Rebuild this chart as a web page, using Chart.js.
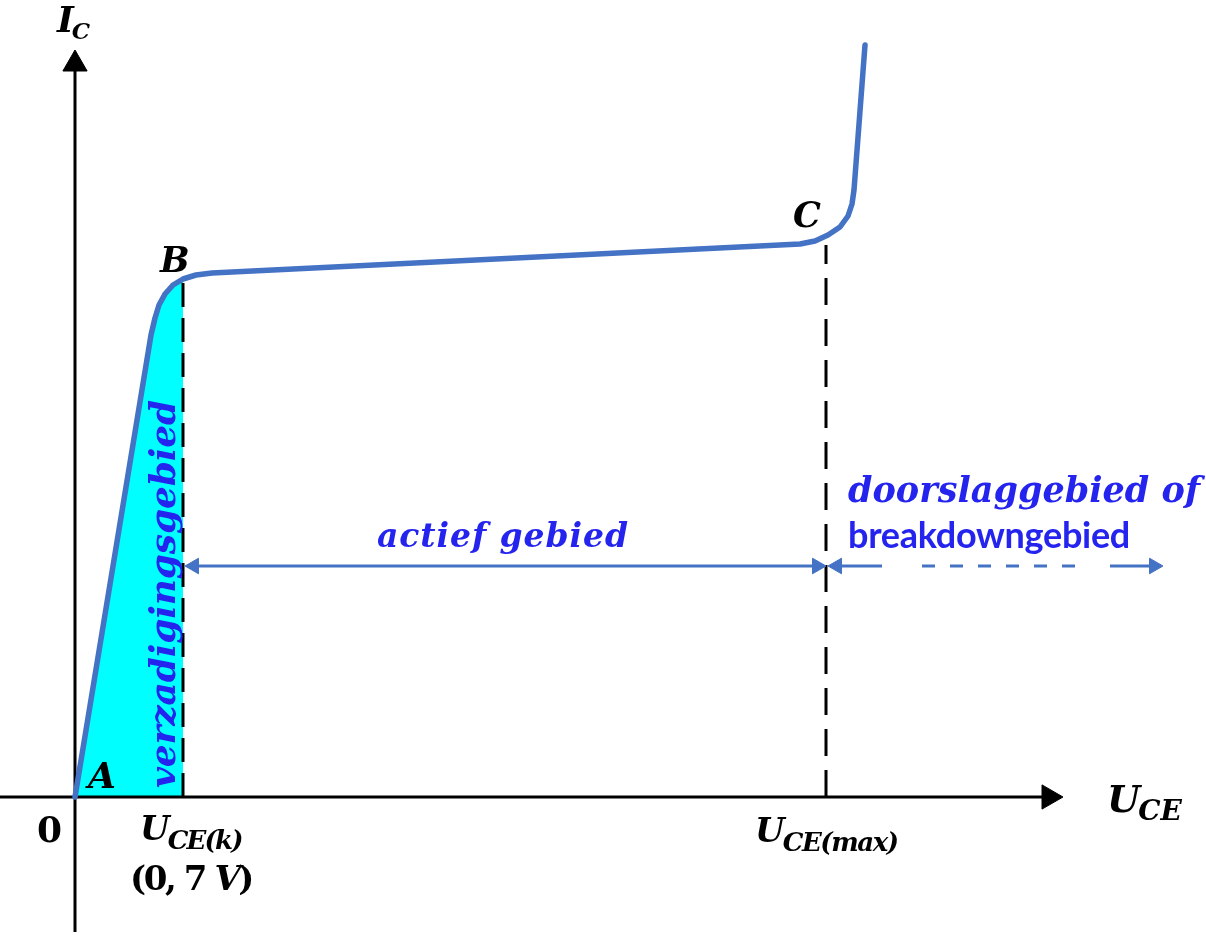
<!DOCTYPE html>
<html>
<head>
<meta charset="utf-8">
<script src="https://cdn.jsdelivr.net/npm/chart.js@4.4.0/dist/chart.umd.min.js"></script>
<style>
  html, body { margin: 0; padding: 0; background: #fff; }
  canvas { display: block; }
</style>
</head>
<body>
<canvas id="kennlijn" width="1206" height="939"></canvas>
<script>
// waarden (willekeurige eenheden, oorsprong = 0)
const uceCurve = [0, 7.6, 8.0, 8.4, 9.0, 9.8, 10.8, 12.1, 13.7, 72.5, 74.0, 75.3, 76.5, 77.3, 77.7, 77.9, 79.0];
const icCurve  = [0, 46.2, 47.9, 49.2, 50.3, 51.2, 51.8, 52.2, 52.4, 55.3, 55.6, 56.2, 57.0, 58.1, 59.3, 60.7, 75.2];
const satPoints = 7; // de eerste punten tot U_CE(k)

const uceK = 10.8;
const uceMax = 75.1;
const kneeTops = [51.4, 55.2];

const xAxisEnds = [-7.5, 97.4];
const yAxisEnds = [-13.5, 73.3];

const arrowLevel = 23.1;
const activeArrow = [11.9, 74.2];
const breakdownSolid1 = [76.2, 80.7];
const breakdownDashed = [84.7, 101.5];
const breakdownSolid2 = [103.5, 107.9];

const BLUE = '#4472C4';
const TEXT_BLUE = '#2424EE';
const SERIF = '"DejaVu Serif"';

function pts(xs, ys) {
  return xs.map((x, i) => ({ x: x, y: ys[i] }));
}
function hline(xs, y) {
  return [{ x: xs[0], y: y }, { x: xs[1], y: y }];
}

// teksten (ankerpunten in as-eenheden)
const texts = [
  { t: 'I', sub: 'C', x: -1.8, y: 76.5, size: 36, subSize: 23, drop: 7 },
  { t: 'B', x: 8.5, y: 52.5, font: 'italic bold 35px ' + SERIF },
  { t: 'C', x: 71.8, y: 57.0, font: 'italic bold 35px ' + SERIF },
  { t: 'A', x: 1.3, y: 0.9, font: 'italic bold 36px ' + SERIF },
  { t: '0', x: -3.8, y: -4.5, font: 'bold 36px ' + SERIF },
  { t: 'U', sub: 'CE(k)', x: 6.5, y: -4.3, size: 34, subSize: 26, drop: 9, subW: 74 },
  { runs: [
      { t: '(0, 7 ', font: 'bold 34px ' + SERIF },
      { t: 'V', font: 'italic bold 34px ' + SERIF },
      { t: ')', font: 'bold 34px ' + SERIF }
    ], x: 5.5, y: -9.3, w: 122 },
  { t: 'U', sub: 'CE(max)', x: 68.0, y: -4.5, size: 34, subSize: 26, drop: 9, subW: 115 },
  { t: 'U', sub: 'CE', x: 103.2, y: -1.5, size: 38, subSize: 28, drop: 8, subW: 44 },
  { t: 'actief gebied', x: 30.2, y: 25.0, font: 'italic bold 33px ' + SERIF, w: 252, color: TEXT_BLUE },
  { t: 'doorslaggebied of', x: 77.3, y: 29.5, font: 'italic bold 35px ' + SERIF, w: 352, color: TEXT_BLUE },
  { t: 'breakdowngebied', x: 77.3, y: 24.9, font: 'bold 36px Lato', w: 282, color: TEXT_BLUE },
  { t: 'verzadigingsgebied', x: 10.0, y: 0.9, font: 'italic bold 36px ' + SERIF, w: 388, color: TEXT_BLUE, rot: -Math.PI / 2 }
];

function drawText(ctx, item, px, py) {
  ctx.save();
  ctx.textAlign = 'left';
  ctx.textBaseline = 'alphabetic';
  ctx.fillStyle = item.color || '#000';
  ctx.translate(px, py);
  if (item.rot) ctx.rotate(item.rot);
  ctx.letterSpacing = '0px';
  if (item.runs) {
    // gemengd recht / cursief, samen passend gemaakt op breedte
    let total = 0, chars = 0;
    item.runs.forEach(r => {
      ctx.font = r.font;
      total += ctx.measureText(r.t).width;
      chars += r.t.length;
    });
    let ls = item.w ? (item.w - total) / chars : 0;
    ctx.letterSpacing = ls + 'px';
    let cx = 0;
    item.runs.forEach(r => {
      ctx.font = r.font;
      ctx.fillText(r.t, cx, 0);
      cx += ctx.measureText(r.t).width;
    });
  } else if (item.sub) {
    // grootheid met index
    ctx.font = 'italic bold ' + item.size + 'px ' + SERIF;
    ctx.fillText(item.t, 0, 0);
    let sx = ctx.measureText(item.t).width - 2;
    ctx.font = 'italic bold ' + item.subSize + 'px ' + SERIF;
    if (item.subW) {
      let w = ctx.measureText(item.sub).width;
      ctx.letterSpacing = ((item.subW - w) / item.sub.length) + 'px';
    }
    ctx.fillText(item.sub, sx, item.drop);
  } else {
    ctx.font = item.font;
    if (item.w) {
      let w = ctx.measureText(item.t).width;
      ctx.letterSpacing = ((item.w - w) / item.t.length) + 'px';
    }
    ctx.fillText(item.t, 0, 0);
  }
  ctx.restore();
}

const textPlugin = {
  id: 'teksten',
  afterDraw(chart) {
    const ctx = chart.ctx;
    const xs = chart.scales.x, ys = chart.scales.y;
    texts.forEach(item => {
      drawText(ctx, item, xs.getPixelForValue(item.x), ys.getPixelForValue(item.y));
    });
  }
};

const lineBase = { showLine: true, pointRadius: 0, pointHoverRadius: 0, fill: false };

let chart = new Chart(document.getElementById('kennlijn'), {
  type: 'scatter',
  data: {
    datasets: [
      // verzadigingsgebied (cyaan)
      Object.assign({}, lineBase, {
        data: pts(uceCurve.slice(0, satPoints), icCurve.slice(0, satPoints)),
        borderWidth: 0,
        borderColor: 'rgba(0,0,0,0)',
        backgroundColor: '#00FFFF',
        fill: 'origin',
        order: 10
      }),
      // gestreepte lijnen
      Object.assign({}, lineBase, {
        data: [{ x: uceK, y: 0 }, { x: uceK, y: kneeTops[0] }],
        borderColor: '#000', borderWidth: 3, borderDash: [24, 11],
        order: 8
      }),
      Object.assign({}, lineBase, {
        data: [{ x: uceMax, y: 0 }, { x: uceMax, y: kneeTops[1] }],
        borderColor: '#000', borderWidth: 3, borderDash: [27, 14],
        order: 8
      }),
      // assen
      Object.assign({}, lineBase, {
        data: [{ x: xAxisEnds[0], y: 0 }, { x: xAxisEnds[1], y: 0 }],
        borderColor: '#000', borderWidth: 3,
        pointStyle: 'triangle', pointRadius: [0, 14], pointRotation: [0, 90],
        pointBackgroundColor: '#000', pointBorderColor: '#000', pointBorderWidth: 1,
        order: 6
      }),
      Object.assign({}, lineBase, {
        data: [{ x: 0, y: yAxisEnds[0] }, { x: 0, y: yAxisEnds[1] }],
        borderColor: '#000', borderWidth: 3,
        pointStyle: 'triangle', pointRadius: [0, 14], pointRotation: [0, 0],
        pointBackgroundColor: '#000', pointBorderColor: '#000', pointBorderWidth: 1,
        order: 6
      }),
      // pijlen van de gebieden
      Object.assign({}, lineBase, {
        data: hline(activeArrow, arrowLevel),
        borderColor: BLUE, borderWidth: 3,
        pointStyle: 'triangle', pointRadius: 9, pointRotation: [-90, 90],
        pointBackgroundColor: BLUE, pointBorderColor: BLUE, pointBorderWidth: 1,
        order: 4
      }),
      Object.assign({}, lineBase, {
        data: hline(breakdownSolid1, arrowLevel),
        borderColor: BLUE, borderWidth: 3,
        pointStyle: 'triangle', pointRadius: [9, 0], pointRotation: [-90, 0],
        pointBackgroundColor: BLUE, pointBorderColor: BLUE, pointBorderWidth: 1,
        order: 4
      }),
      Object.assign({}, lineBase, {
        data: hline(breakdownDashed, arrowLevel),
        borderColor: BLUE, borderWidth: 3, borderDash: [13, 15],
        order: 4
      }),
      Object.assign({}, lineBase, {
        data: hline(breakdownSolid2, arrowLevel),
        borderColor: BLUE, borderWidth: 3,
        pointStyle: 'triangle', pointRadius: [0, 9], pointRotation: [0, 90],
        pointBackgroundColor: BLUE, pointBorderColor: BLUE, pointBorderWidth: 1,
        order: 4
      }),
      // karakteristiek I_C(U_CE)
      Object.assign({}, lineBase, {
        data: pts(uceCurve, icCurve),
        borderColor: BLUE, borderWidth: 5.5,
        borderJoinStyle: 'round', borderCapStyle: 'round',
        order: 1
      })
    ]
  },
  options: {
    responsive: false,
    animation: false,
    events: [],
    layout: { padding: 0, autoPadding: false },
    plugins: {
      legend: { display: false },
      tooltip: { enabled: false }
    },
    scales: {
      x: { type: 'linear', min: -7.5, max: 113.1, display: false },
      y: { type: 'linear', min: -14.2, max: 79.7, display: false }
    }
  },
  plugins: [textPlugin]
});
</script>
</body>
</html>
